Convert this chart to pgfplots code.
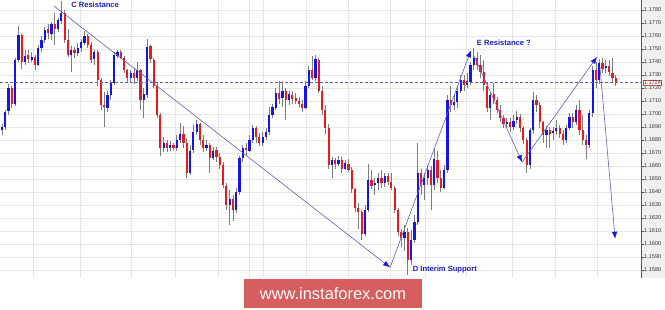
\documentclass[border=0pt]{standalone}
\usepackage{pgfplots}
\pgfplotsset{compat=1.18}
\usepackage{pgfplotstable}
\usepackage{fontspec}
\setmainfont{Liberation Sans}
\usetikzlibrary{arrows.meta}

\definecolor{bull}{RGB}{20,20,235}
\definecolor{bear}{RGB}{235,25,25}
\definecolor{wick}{RGB}{125,125,125}
\definecolor{trend}{RGB}{95,95,200}
\definecolor{tip}{RGB}{25,25,215}
\definecolor{note}{RGB}{30,30,200}
\definecolor{gridc}{RGB}{230,230,230}
\definecolor{panel}{RGB}{240,240,240}
\definecolor{wm}{RGB}{214,94,94}
\definecolor{pricebox}{RGB}{215,70,70}

% EURUSD bars: index, open, high, low, close
\pgfplotstableread{
i o h l c
0 1.1688 1.1692 1.1684 1.1690
1 1.1690 1.1703 1.1688 1.1702
2 1.1702 1.1723 1.1699 1.1720
3 1.1720 1.1722 1.1705 1.1708
4 1.1708 1.1743 1.1706 1.1742
5 1.1742 1.1768 1.1740 1.1761
6 1.1761 1.1762 1.1735 1.1740
7 1.1740 1.1749 1.1738 1.1745
8 1.1745 1.1749 1.1739 1.1742
9 1.1742 1.1748 1.1740 1.1744
10 1.1744 1.1745 1.1734 1.1738
11 1.1738 1.1753 1.1737 1.1751
12 1.1751 1.1760 1.1748 1.1757
13 1.1757 1.1767 1.1755 1.1765
14 1.1765 1.1769 1.1758 1.1762
15 1.1762 1.1771 1.1757 1.1769
16 1.1769 1.1778 1.1753 1.1765
17 1.1765 1.1774 1.1763 1.1772
18 1.1772 1.1787 1.1769 1.1778
19 1.1778 1.1780 1.1755 1.1757
20 1.1757 1.1765 1.1744 1.1745
21 1.1745 1.1752 1.1732 1.1749
22 1.1749 1.1752 1.1743 1.1747
23 1.1747 1.1755 1.1745 1.1751
24 1.1751 1.1758 1.1748 1.1755
25 1.1755 1.1764 1.1753 1.1760
26 1.1760 1.1762 1.1751 1.1753
27 1.1753 1.1755 1.1739 1.1742
28 1.1742 1.1749 1.1738 1.1748
29 1.1748 1.1749 1.1722 1.1726
30 1.1726 1.1728 1.1703 1.1707
31 1.1707 1.1717 1.1690 1.1705
32 1.1705 1.1718 1.1702 1.1715
33 1.1715 1.1726 1.1711 1.1724
34 1.1724 1.1748 1.1722 1.1745
35 1.1745 1.1749 1.1743 1.1748
36 1.1748 1.1749 1.1742 1.1743
37 1.1743 1.1745 1.1732 1.1734
38 1.1734 1.1735 1.1725 1.1728
39 1.1728 1.1734 1.1725 1.1732
40 1.1732 1.1735 1.1723 1.1728
41 1.1728 1.1740 1.1725 1.1734
42 1.1734 1.1735 1.1703 1.1711
43 1.1711 1.1720 1.1697 1.1715
44 1.1715 1.1758 1.1712 1.1752
45 1.1752 1.1753 1.1739 1.1742
46 1.1742 1.1743 1.1720 1.1722
47 1.1722 1.1724 1.1697 1.1699
48 1.1699 1.1701 1.1668 1.1674
49 1.1674 1.1682 1.1671 1.1678
50 1.1678 1.1680 1.1671 1.1674
51 1.1674 1.1679 1.1672 1.1676
52 1.1676 1.1678 1.1672 1.1674
53 1.1674 1.1684 1.1672 1.1680
54 1.1680 1.1693 1.1678 1.1685
55 1.1685 1.1691 1.1674 1.1678
56 1.1678 1.1682 1.1651 1.1655
57 1.1655 1.1676 1.1653 1.1672
58 1.1672 1.1692 1.1670 1.1686
59 1.1686 1.1695 1.1684 1.1692
60 1.1692 1.1693 1.1676 1.1680
61 1.1680 1.1684 1.1671 1.1674
62 1.1674 1.1680 1.1672 1.1676
63 1.1676 1.1678 1.1655 1.1666
64 1.1666 1.1675 1.1665 1.1672
65 1.1672 1.1675 1.1663 1.1667
66 1.1667 1.1670 1.1658 1.1661
67 1.1661 1.1663 1.1643 1.1645
68 1.1645 1.1647 1.1626 1.1630
69 1.1630 1.1642 1.1615 1.1635
70 1.1635 1.1638 1.1618 1.1626
71 1.1626 1.1643 1.1624 1.1640
72 1.1640 1.1668 1.1638 1.1666
73 1.1666 1.1676 1.1663 1.1674
74 1.1674 1.1678 1.1668 1.1672
75 1.1672 1.1684 1.1671 1.1680
76 1.1680 1.1692 1.1678 1.1689
77 1.1689 1.1691 1.1678 1.1682
78 1.1682 1.1685 1.1675 1.1678
79 1.1678 1.1686 1.1675 1.1682
80 1.1682 1.1689 1.1680 1.1686
81 1.1686 1.1705 1.1684 1.1699
82 1.1699 1.1708 1.1697 1.1705
83 1.1705 1.1720 1.1703 1.1716
84 1.1716 1.1725 1.1708 1.1712
85 1.1712 1.1725 1.1705 1.1718
86 1.1718 1.1720 1.1695 1.1711
87 1.1711 1.1718 1.1707 1.1715
88 1.1715 1.1718 1.1708 1.1712
89 1.1712 1.1716 1.1708 1.1710
90 1.1710 1.1713 1.1705 1.1708
91 1.1708 1.1711 1.1702 1.1705
92 1.1705 1.1725 1.1704 1.1722
93 1.1722 1.1737 1.1720 1.1734
94 1.1734 1.1745 1.1726 1.1728
95 1.1728 1.1745 1.1725 1.1742
96 1.1742 1.1743 1.1716 1.1718
97 1.1718 1.1722 1.1699 1.1703
98 1.1703 1.1707 1.1685 1.1689
99 1.1689 1.1692 1.1658 1.1661
100 1.1661 1.1667 1.1651 1.1665
101 1.1665 1.1666 1.1658 1.1662
102 1.1662 1.1668 1.1660 1.1665
103 1.1665 1.1667 1.1655 1.1658
104 1.1658 1.1665 1.1657 1.1662
105 1.1662 1.1665 1.1655 1.1657
106 1.1657 1.1659 1.1639 1.1642
107 1.1642 1.1643 1.1625 1.1628
108 1.1628 1.1632 1.1612 1.1625
109 1.1625 1.1626 1.1603 1.1608
110 1.1608 1.1630 1.1606 1.1626
111 1.1626 1.1662 1.1625 1.1649
112 1.1649 1.1657 1.1642 1.1645
113 1.1645 1.1651 1.1638 1.1647
114 1.1647 1.1655 1.1642 1.1651
115 1.1651 1.1657 1.1643 1.1647
116 1.1647 1.1655 1.1644 1.1652
117 1.1652 1.1655 1.1645 1.1648
118 1.1648 1.1655 1.1642 1.1643
119 1.1643 1.1645 1.1624 1.1626
120 1.1626 1.1628 1.1606 1.1609
121 1.1609 1.1612 1.1598 1.1605
122 1.1605 1.1615 1.1595 1.1609
123 1.1609 1.1612 1.1576 1.1588
124 1.1588 1.1611 1.1584 1.1603
125 1.1603 1.1622 1.1601 1.1617
126 1.1617 1.1678 1.1615 1.1655
127 1.1655 1.1658 1.1638 1.1645
128 1.1645 1.1655 1.1634 1.1651
129 1.1651 1.1661 1.1645 1.1657
130 1.1657 1.1660 1.1626 1.1645
131 1.1645 1.1674 1.1642 1.1665
132 1.1665 1.1672 1.1647 1.1651
133 1.1651 1.1657 1.1640 1.1643
134 1.1643 1.1661 1.1642 1.1657
135 1.1657 1.1715 1.1655 1.1711
136 1.1711 1.1722 1.1702 1.1707
137 1.1707 1.1715 1.1703 1.1709
138 1.1709 1.1722 1.1705 1.1718
139 1.1718 1.1730 1.1716 1.1726
140 1.1726 1.1730 1.1718 1.1722
141 1.1722 1.1732 1.1720 1.1725
142 1.1725 1.1740 1.1722 1.1738
143 1.1738 1.1751 1.1734 1.1743
144 1.1743 1.1748 1.1734 1.1738
145 1.1738 1.1745 1.1728 1.1732
146 1.1732 1.1742 1.1718 1.1722
147 1.1722 1.1725 1.1702 1.1705
148 1.1705 1.1717 1.1695 1.1715
149 1.1715 1.1724 1.1708 1.1711
150 1.1711 1.1713 1.1701 1.1703
151 1.1703 1.1707 1.1694 1.1697
152 1.1697 1.1699 1.1689 1.1692
153 1.1692 1.1697 1.1689 1.1694
154 1.1694 1.1697 1.1686 1.1690
155 1.1690 1.1699 1.1688 1.1695
156 1.1695 1.1702 1.1692 1.1698
157 1.1698 1.1700 1.1686 1.1689
158 1.1689 1.1691 1.1677 1.1680
159 1.1680 1.1682 1.1655 1.1661
160 1.1661 1.1689 1.1658 1.1688
161 1.1688 1.1717 1.1685 1.1711
162 1.1711 1.1715 1.1702 1.1707
163 1.1707 1.1709 1.1689 1.1694
164 1.1694 1.1695 1.1678 1.1684
165 1.1684 1.1691 1.1674 1.1688
166 1.1688 1.1690 1.1674 1.1685
167 1.1685 1.1690 1.1680 1.1687
168 1.1687 1.1695 1.1684 1.1689
169 1.1689 1.1692 1.1682 1.1685
170 1.1685 1.1688 1.1676 1.1680
171 1.1680 1.1692 1.1678 1.1689
172 1.1689 1.1701 1.1688 1.1698
173 1.1698 1.1701 1.1689 1.1694
174 1.1694 1.1707 1.1692 1.1703
175 1.1703 1.1711 1.1684 1.1688
176 1.1688 1.1699 1.1676 1.1680
177 1.1680 1.1684 1.1665 1.1676
178 1.1676 1.1703 1.1674 1.1701
179 1.1701 1.1737 1.1698 1.1734
180 1.1734 1.1740 1.1720 1.1726
181 1.1726 1.1742 1.1723 1.1739
182 1.1739 1.1743 1.1732 1.1735
183 1.1735 1.1742 1.1732 1.1737
184 1.1737 1.1742 1.1729 1.1732
185 1.1732 1.1743 1.1725 1.1728
186 1.1728 1.1730 1.1722 1.1724
}\candles

\begin{document}
\begin{tikzpicture}
\useasboundingbox (0,0) rectangle (665bp,310bp);
% price scale panel
\fill[panel] (641bp,32bp) rectangle (665bp,310bp);
\begin{axis}[
  at={(0,32bp)}, anchor=south west,
  scale only axis, width=641bp, height=278bp,
  xmin=-0.606, xmax=193.64,
  ymin=1.157385, ymax=1.178769,
  clip=false,
  axis line style={draw=none},
  xtick={9.39,23.64,39.09,52.42,65.45,74.85,79.09,92.12,104.85,117.58,128.18,140.61,154.55,167.58,180.30},
  xticklabels={},
  major x tick style={draw=none},
  xmajorgrids, ymajorgrids,
  grid style={gridc, line width=0.8bp},
  ytick={1.158,1.159,1.160,1.161,1.162,1.163,1.164,1.165,1.166,1.167,1.168,1.169,1.170,1.171,1.172,1.173,1.174,1.175,1.176,1.177,1.178},
  ytick pos=right, yticklabel pos=right,
  tick align=outside, major tick length=2.5bp,
  major y tick style={black!70, line width=0.5bp},
  scaled y ticks=false,
  yticklabel style={font=\fontsize{5.6}{6}\selectfont, text=black!80, inner sep=0.5bp,
    /pgf/number format/.cd, fixed, fixed zerofill, precision=4, assume math mode=true},
]
% wicks
\addplot[draw=none, no markers, forget plot,
  error bars/.cd, y dir=both, y explicit, error mark=none,
  error bar style={draw=wick, solid, line width=0.9bp}]
  table[x=i, y expr={(\thisrow{h}+\thisrow{l})/2}, y error expr={(\thisrow{h}-\thisrow{l})/2}] {\candles};
% rising bodies
\addplot[draw=none, no markers, forget plot,
  x filter/.expression={\thisrow{c}>\thisrow{o} ? x : nan},
  error bars/.cd, y dir=both, y explicit, error mark=none,
  error bar style={draw=bull, solid, line width=2.2bp}]
  table[x=i, y expr={(\thisrow{o}+\thisrow{c})/2}, y error expr={abs(\thisrow{c}-\thisrow{o})/2}] {\candles};
% falling bodies
\addplot[draw=none, no markers, forget plot,
  x filter/.expression={\thisrow{c}<\thisrow{o} ? x : nan},
  error bars/.cd, y dir=both, y explicit, error mark=none,
  error bar style={draw=bear, solid, line width=2.2bp}]
  table[x=i, y expr={(\thisrow{o}+\thisrow{c})/2}, y error expr={abs(\thisrow{c}-\thisrow{o})/2}] {\candles};

% last price
\addplot[color=trend, line width=0.7bp, dash pattern=on 3bp off 2bp] coordinates {(-0.606,1.1724) (193.64,1.1724)};

% wave lines
\addplot[color=trend, line width=0.6bp, -{Latex[length=7bp,width=5.5bp,color=tip]}] coordinates {(15.8,1.1783) (117.6,1.1582)};
\addplot[color=trend, line width=0.6bp, -{Latex[length=7bp,width=5.5bp,color=tip]}] coordinates {(117.6,1.1582) (142.1,1.1749)};
\addplot[color=trend, line width=0.6bp, -{Latex[length=7bp,width=5.5bp,color=tip]}] coordinates {(143.0,1.1745) (157.6,1.1663)};
\addplot[color=trend, line width=0.6bp, -{Latex[length=7bp,width=5.5bp,color=tip]}] coordinates {(157.6,1.1663) (180.3,1.1744)};
\addplot[color=trend, line width=0.6bp, -{Latex[length=7bp,width=5.5bp,color=tip]}] coordinates {(181.2,1.1736) (185.8,1.1604)};

\node[text=note, font=\fontsize{7.6}{9}\selectfont\bfseries] at (axis cs:28.2,1.17842) {C Resistance};
\node[text=note, font=\fontsize{7.6}{9}\selectfont\bfseries] at (axis cs:152.1,1.1755) {E Resistance ?};
\node[text=note, font=\fontsize{7.6}{9}\selectfont\bfseries] at (axis cs:134.2,1.1580) {D Interim Support};

\draw[black!65, line width=0.8bp] (rel axis cs:1,0) -- (rel axis cs:1,1);
\node[draw=pricebox, fill=white, line width=0.5bp, inner sep=0.6bp, anchor=west, xshift=2bp,
  font=\fontsize{5.6}{6}\selectfont, text=black!80] at (axis cs:193.64,1.1724) {1.1724};
\end{axis}
% site banner
\fill[wm] (244bp,2bp) rectangle (422bp,31bp);
\node[text=white, font=\fontsize{16.5}{18}\selectfont] at (333bp,16.5bp) {www.instaforex.com};
\end{tikzpicture}
\end{document}
